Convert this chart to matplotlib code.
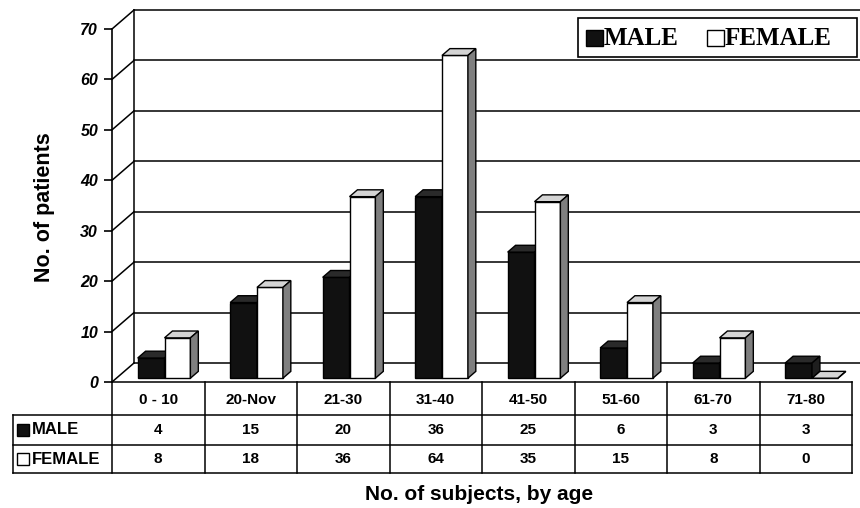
import matplotlib
matplotlib.use('Agg')
import matplotlib.pyplot as plt
from matplotlib.patches import Polygon, Rectangle

# data
age_groups = ['0 - 10', '20-Nov', '21-30', '31-40', '41-50', '51-60', '61-70', '71-80']
male = [4, 15, 20, 36, 25, 6, 3, 3]
female = [8, 18, 36, 64, 35, 15, 8, 0]
y_ticks = [0, 10, 20, 30, 40, 50, 60, 70]

W, H = 860, 508
plt.rcParams['font.family'] = ['Liberation Sans', 'DejaVu Sans']

fig = plt.figure(figsize=(W / 100, H / 100), dpi=100)
fig.patch.set_facecolor('white')


def fx(px):
    return px / W


def fy(py):
    return 1 - py / H


# front plane of the 3d box (pixels: x 112..852, y 29..382)
ax = fig.add_axes([fx(112), fy(382), 740 / W, 353 / H])
ax.set_xlim(0, len(age_groups))
ax.set_ylim(0, 70)
px_x = 740 / len(age_groups)
px_y = 353 / 70
DX = 22 / px_x     # depth offset, category units
DY = 19 / px_y     # depth offset, value units

for s in ['top', 'right', 'bottom']:
    ax.spines[s].set_visible(False)
ax.spines['left'].set_linewidth(1.2)
ax.set_xticks([])
ax.set_yticks(y_ticks)
ax.tick_params(axis='y', direction='out', length=6, width=1.2, pad=4)
for lab in ax.get_yticklabels():
    lab.set_fontweight('bold')
    lab.set_fontstyle('italic')
    lab.set_fontsize(11.5)
ax.patch.set_alpha(0)

# back wall, floor and depth lines
lw = 1.1
for t in y_ticks:
    ax.plot([DX, len(age_groups) + 0.3], [t + DY, t + DY], color='black', lw=lw, clip_on=False, zorder=1)
    ax.plot([0, DX], [t, t + DY], color='black', lw=lw, clip_on=False, zorder=1)
ax.plot([DX, DX], [DY, 70 + DY], color='black', lw=lw, clip_on=False, zorder=1)


def pt(x, v, d):
    return (x + d * DX, v + d * DY)


def bar3d(x0, x1, v, front, top, side, z):
    d0, d1 = 0.2, 0.56
    faces = [
        ([pt(x0, 0, d0), pt(x1, 0, d0), pt(x1, v, d0), pt(x0, v, d0)], front),
        ([pt(x0, v, d0), pt(x1, v, d0), pt(x1, v, d1), pt(x0, v, d1)], top),
        ([pt(x1, 0, d0), pt(x1, 0, d1), pt(x1, v, d1), pt(x1, v, d0)], side),
    ]
    for verts, col in faces:
        ax.add_patch(Polygon(verts, closed=True, facecolor=col, edgecolor='black',
                             lw=1, joinstyle='miter', clip_on=False, zorder=z))


z = 3
for i in range(len(age_groups)):
    bar3d(i + 0.23, i + 0.52, male[i], '#111111', '#2a2a2a', '#1e1e1e', z)
    bar3d(i + 0.52, i + 0.80, female[i], 'white', '#d4d4d4', '#7f7f7f', z + 1)
    z += 2

# legend box, drawn by hand to keep its odd padding
fig.add_artist(Rectangle((fx(578), fy(57)), 279 / W, 39 / H, transform=fig.transFigure,
                         facecolor='white', edgecolor='black', lw=1.2, zorder=20))
leg_font = {'family': 'Liberation Serif', 'weight': 'bold', 'size': 18}
for sx, col, name in [(586, '#111111', 'MALE'), (707, 'white', 'FEMALE')]:
    fig.add_artist(Rectangle((fx(sx), fy(46)), 17 / W, 16 / H, transform=fig.transFigure,
                             facecolor=col, edgecolor='black', lw=1, zorder=21))
    fig.text(fx(sx + 18), fy(38.5), name, ha='left', va='center', zorder=22, fontdict=leg_font)

# data table under the chart
tab = fig.add_axes([fx(13), fy(473), 839 / W, 91 / H])
x_left = -99 / px_x
n = len(age_groups)
tab.set_xlim(x_left, n)
tab.set_ylim(91, 0)
tab.axis('off')
rows = [0, 33, 63, 91]
tl = 1.1
tab.plot([0, n], [rows[0], rows[0]], color='black', lw=tl, clip_on=False)
for r in rows[1:]:
    tab.plot([x_left, n], [r, r], color='black', lw=tl, clip_on=False)
for c in range(n + 1):
    tab.plot([c, c], [rows[0], rows[3]], color='black', lw=tl, clip_on=False)
tab.plot([x_left, x_left], [rows[1], rows[3]], color='black', lw=tl, clip_on=False)

for i, g in enumerate(age_groups):
    tab.text(i + 0.5, (rows[0] + rows[1]) / 2 + 1, g, ha='center', va='center',
             fontsize=11, fontweight='bold')
    tab.text(i + 0.5, (rows[1] + rows[2]) / 2, str(male[i]), ha='center', va='center',
             fontsize=11, fontweight='bold')
    tab.text(i + 0.5, (rows[2] + rows[3]) / 2, str(female[i]), ha='center', va='center',
             fontsize=11, fontweight='bold')

# row labels with their key squares
for (r0, r1), col, name in [((rows[1], rows[2]), '#111111', 'MALE'),
                            ((rows[2], rows[3]), 'white', 'FEMALE')]:
    ym = (r0 + r1) / 2
    tab.add_patch(Rectangle((4 / px_x + x_left, ym + 6), 12 / px_x, -12, facecolor=col,
                            edgecolor='black', lw=1, clip_on=False))
    tab.text(x_left + 19 / px_x, ym, name, ha='left', va='center',
             fontsize=12, fontweight='bold')

# axis titles
fig.text(fx(45), fy(207), 'No. of patients', rotation=90, ha='center', va='center',
         fontsize=15.5, fontweight='bold')
fig.text(fx(479), fy(495), 'No. of subjects, by age', ha='center', va='center',
         fontsize=15, fontweight='bold')

fig.savefig('out.png', dpi=100, facecolor='white')
